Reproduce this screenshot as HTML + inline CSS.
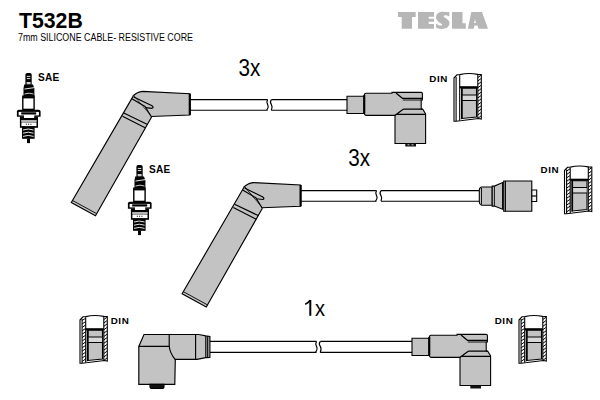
<!DOCTYPE html>
<html><head><meta charset="utf-8">
<style>
html,body{margin:0;padding:0;background:#fff;width:600px;height:400px;overflow:hidden}
svg{position:absolute;left:0;top:0}
text{font-family:"Liberation Sans",sans-serif}
</style></head>
<body>
<svg width="600" height="400" viewBox="0 0 600 400">
<defs>
  <!-- DIN connector, origin top-left, ~28x48 -->
  <g id="din" stroke="#000" stroke-width="1.1" fill="none">
    <path d="M0.5,5 L3.5,1.8 L6.2,1.6 Q15,-0.6 24.3,1.4 L27.8,1.6 L27.8,46 L25,45.5 L2.6,48.2 L0.5,48.2 Z" fill="#fff"/>
    <path d="M6.5,15 H8.3 V47.3 H6.5 Z" fill="#c3c3c3" stroke="none"/>
    <path d="M2.6,4 V48 M6.2,2.2 V47.5 M24.3,1.2 V45.8" />
    <path d="M2.7,5.5 L6.0,3.3 M2.7,8.9 L6.0,6.7 M2.7,12.3 L6.0,10.1 M2.7,15.7 L6.0,13.5 M2.7,19.1 L6.0,16.9 M2.7,22.5 L6.0,20.3 M2.7,25.9 L6.0,23.7 M2.7,29.3 L6.0,27.1 M2.7,32.7 L6.0,30.5 M2.7,36.1 L6.0,33.9 M2.7,39.5 L6.0,37.3 M2.7,42.9 L6.0,40.7 M2.7,46.3 L6.0,44.1" stroke-width="1"/>
    <path d="M24.4,4.5 L27.4,2.3 M24.4,7.9 L27.4,5.7 M24.4,11.3 L27.4,9.1 M24.4,14.7 L27.4,12.5 M24.4,18.1 L27.4,15.9 M24.4,21.5 L27.4,19.3 M24.4,24.9 L27.4,22.7 M24.4,28.3 L27.4,26.1 M24.4,31.7 L27.4,29.5 M24.4,35.1 L27.4,32.9 M24.4,38.5 L27.4,36.3 M24.4,41.9 L27.4,39.7 M24.4,45.3 L27.4,43.1" stroke-width="1"/>
    <line x1="6.2" y1="14.3" x2="24.3" y2="14.3" stroke-width="2.2"/>
    <path d="M8.3,15.3 H23 V44 L8.3,45.5 Z" fill="#c3c3c3"/>
    <rect x="8.8" y="22" width="13.8" height="5.5" fill="#d8d8d8" stroke="none"/>
    <path d="M8.3,22 H23 M8.3,27.5 H23" stroke-width="1"/>
    <path d="M8.3,15 V46" stroke-width="1.6"/>
  </g>
  <g id="din1" stroke="#000" stroke-width="1.1" fill="none">
    <path d="M0.5,5 L3.5,1.8 L6.2,1.6 Q15,-0.6 24.3,1.4 L27.8,1.6 L27.8,46 L25,45.5 L2.6,48.2 L0.5,48.2 Z" fill="#fff"/>
    <path d="M2.6,4 V48 M6.2,2.2 V47.5 M24.3,1.2 V45.8" />
    <path d="M6.5,15 H8.3 V47.3 H6.5 Z" fill="#c3c3c3" stroke="none"/>
    <path d="M24.4,4.5 L27.4,2.3 M24.4,7.9 L27.4,5.7 M24.4,11.3 L27.4,9.1 M24.4,14.7 L27.4,12.5 M24.4,18.1 L27.4,15.9 M24.4,21.5 L27.4,19.3 M24.4,24.9 L27.4,22.7 M24.4,28.3 L27.4,26.1 M24.4,31.7 L27.4,29.5 M24.4,35.1 L27.4,32.9 M24.4,38.5 L27.4,36.3 M24.4,41.9 L27.4,39.7 M24.4,45.3 L27.4,43.1" stroke-width="1"/>
    <line x1="6.2" y1="14.3" x2="24.3" y2="14.3" stroke-width="2.2"/>
    <path d="M8.3,15.3 H23 V44 L8.3,45.5 Z" fill="#c3c3c3"/>
    <rect x="8.8" y="22" width="13.8" height="5.5" fill="#d8d8d8" stroke="none"/>
    <path d="M8.3,22 H23 M8.3,27.5 H23" stroke-width="1"/>
    <path d="M8.3,15 V46" stroke-width="1.6"/>
  </g>
  <!-- spark plug, origin at plug 1 coords -->
  <g id="plug" stroke="#000" stroke-width="1.2" fill="#fff">
    <path d="M25.4,86 V74.8 Q25.4,73 27.2,73 H29.9 Q31.7,73 31.7,74.8 V86 Z" fill="#000" stroke="none"/>
    <path d="M26.8,76.4 H30.3 M26.8,78.6 H30.3" stroke="#fff" stroke-width="0.9"/>
    <rect x="26.6" y="82" width="4" height="2.6" fill="#ccc" stroke="none"/>
    <path d="M24.2,84.6 H33 L34.4,88.5 V96.5 H23.5 V88.5 Z" fill="#000" stroke="none"/>
    <path d="M24.5,89 L34,87.7" stroke="#fff" stroke-width="0.9"/>
    <path d="M24.5,94 Q29,92.3 33.5,94" stroke="#fff" stroke-width="0.8" fill="none"/>
    <rect x="22.8" y="96.2" width="11.3" height="13.2" fill="#fff" stroke-width="1.4"/>
    <path d="M22.8,97.4 H34.1" stroke-width="2"/>
    <path d="M16.9,116.8 V111.6 Q16.9,109.8 18.8,109.8 H38.7 Q40.6,109.8 40.6,111.6 V116.8 Z" fill="#000" stroke="none"/>
    <rect x="18.6" y="111.9" width="20.3" height="3.5" fill="#fff" stroke="none"/>
    <rect x="21.2" y="112.3" width="15" height="2.2" fill="#000" stroke="none"/>
    <rect x="19.9" y="116.5" width="18.1" height="11.3" fill="#000" stroke="none"/>
    <rect x="24" y="115" width="10.2" height="3" fill="#fff" stroke="none"/>
    <rect x="21.2" y="120.3" width="15.5" height="1.4" fill="#fff" stroke="none"/>
    <rect x="21.4" y="122.4" width="15.1" height="3.7" fill="#fff" stroke="none"/>
    <path d="M25.8,124.3 h1 M28.1,124.3 h1 M30.4,124.3 h1" stroke-width="1.1"/>
    <rect x="22" y="126.8" width="12.6" height="12" fill="#000" stroke="none"/>
    <path d="M23,130 Q28.3,128 33.6,130 M23,133.2 Q28.3,131.2 33.6,133.2 M23,136.4 Q28.3,134.4 33.6,136.4" stroke="#fff" stroke-width="0.9" fill="none"/>
    <rect x="27" y="138.5" width="3" height="4.6" fill="#000" stroke="none"/>
  </g>
  <!-- angled spark plug boot (cable 1) -->
  <g id="boot1" stroke="#000" stroke-width="1.15" fill="#c3c3c3">
    <path d="M142.5,91.4 L189.8,93.8 L189.8,115 L151,116.5 L133.5,95.5 Q137,92 142.5,91.4 Z"/>
    <path d="M71.3,202.5 L133.5,95.6 L151.6,117 L95.5,215.8 Z" stroke="none"/>
    <path d="M151.6,117 L95.5,215.8 L71.3,202.5 L133.5,95.6" fill="none"/>
    <path d="M72.4,200.4 L96.7,213.7" fill="none" stroke-width="0.9"/>
    <path d="M123.8,113.1 L147.5,124.4 M122.5,116.3 L145.6,128.1" fill="none"/>
    <path d="M131.9,98.7 L145,106.5 L151.5,117" fill="none"/>
    <path d="M133.7,96.9 L152,105.8 Q154.2,107.6 152,108.3 L145.5,107.6" fill="none"/>
    <path d="M189.8,93.8 L189.8,115" stroke-width="2.2"/>
  </g>
  <!-- right angled boot (cable 1 right end) -->
  <g id="elbow" stroke="#000" stroke-width="1.1" fill="#c3c3c3">
    <path d="M347,96.3 L364,96.3 L364,113.5 L347,113.5 Z"/>
    <path d="M366,93.3 L392,93.3 L392,92.4 L421.2,92.4 Q422.4,92.5 422.4,93.8 L422.4,99.9 L421.2,100 L421.2,109.2 L422.8,109.2 L425.6,114 L425.6,143.5 L395,143.5 L395,115.4 L366,115.4 Q364.3,115.2 364.3,113 V95.5 Q364.3,93.3 366,93.3 Z"/>
    <path d="M364.3,95 V113.5" stroke-width="2"/>
    <path d="M396,93 L402.4,98.3 H422.4 M403.2,109.2 H422.8 M403.2,109.2 L394.8,115.6 M396.5,114.4 H425.6" fill="none" stroke-width="1.2"/>
    <path d="M402.8,100 H421.2" fill="none" stroke-width="0.9"/>
    <rect x="405.3" y="143.5" width="10.7" height="3" fill="#111" stroke="none"/>
  </g>
</defs>

<!-- Title -->
<text x="19" y="28.3" font-size="21.8" font-weight="bold" fill="#000" textLength="63.8" lengthAdjust="spacingAndGlyphs">T532B</text>
<text x="18" y="40.9" font-size="10" fill="#000" textLength="175" lengthAdjust="spacingAndGlyphs">7mm SILICONE CABLE- RESISTIVE CORE</text>

<!-- TESLA -->
<g fill="#b6b6b6">
  <path d="M398,12 H415.7 V17 H412 V28.7 H401.7 V17 H398 Z"/>
  <path d="M418,12 H434 V16.7 H428.7 V18.8 H434 V21.8 H428.7 V24 H434 V28.7 H418 Z"/>
  <path d="M449.3,12 V16.5 C446,14.5 444,15 443.5,16 C443,17.5 449.5,19 449.5,23 C449.5,27 446,28.9 441.5,28.9 C439.5,28.9 437.5,28.2 436,27.5 V23.5 C439,26 442,26 442.3,25 C442.8,23.5 436,22 436,17.5 C436,13.5 439.5,11.8 443,11.8 C445.5,11.8 447.5,12.3 449.3,12 Z"/>
  <path d="M452,12 H462.5 V23.3 H465.8 V28.7 H452 Z"/>
  <path d="M471.3,12 H482 L488,28.7 H478.5 L477.5,25.5 H474.5 L473.7,28.7 H467.8 Z"/>
</g>
<path d="M475,19.5 L476,23 H474 Z" fill="#fff"/>
<!-- labels -->
<text x="238.5" y="75.7" font-size="23.2" fill="#000" textLength="21.8" lengthAdjust="spacingAndGlyphs">3x</text>
<text x="348.3" y="165.7" font-size="23.2" fill="#000" textLength="21.8" lengthAdjust="spacingAndGlyphs">3x</text>
<path d="M310.3,300 V315.8" stroke="#000" stroke-width="2" fill="none"/><path d="M305.2,304.2 Q308.5,302.8 310.2,300.2" stroke="#000" stroke-width="1.7" fill="none"/>
<text x="314.9" y="315.7" font-size="22.5" fill="#000" textLength="10" lengthAdjust="spacingAndGlyphs">x</text>

<text x="38" y="81.4" font-size="10.1" font-weight="bold" letter-spacing="0.2" fill="#000">SAE</text>
<text x="149" y="173" font-size="10.1" font-weight="bold" letter-spacing="0.2" fill="#000">SAE</text>
<text x="429.3" y="81.9" font-size="9.8" font-weight="bold" letter-spacing="0.6" fill="#000">DIN</text>
<text x="540.6" y="172.8" font-size="9.8" font-weight="bold" letter-spacing="0.6" fill="#000">DIN</text>
<text x="110.7" y="323.6" font-size="9.8" font-weight="bold" letter-spacing="0.6" fill="#000">DIN</text>
<text x="494.7" y="324" font-size="9.8" font-weight="bold" letter-spacing="0.6" fill="#000">DIN</text>

<!-- spark plugs -->
<use href="#plug"/>
<use href="#plug" transform="translate(111,92)"/>

<!-- DIN connectors -->
<use href="#din1" transform="translate(453.5,73)"/>
<use href="#din" transform="translate(564,165.5)"/>
<use href="#din" transform="translate(79.5,315)"/>
<use href="#din" transform="translate(518.5,315)"/>

<!-- cable 1 -->
<g stroke="#000" stroke-width="1.15" fill="none">
  <path d="M189.8,99.6 H267.6 M189.8,110.2 H267.6"/>
  <path d="M271.4,99.6 H347 M271.4,110.2 H347"/>
  <path d="M267.6,99.6 q-1.5,2.5 0,5 q1.5,2.5 -1,5.6 M271.4,99.6 q-2,2.5 0,5 q1.5,2.5 0,5.6"/>
</g>
<use href="#boot1"/>
<use href="#elbow"/>
<path d="M407.5,144.8 h2 M411.5,144.8 h2" stroke="#ddd" stroke-width="0.9"/>

<!-- cable 2 -->
<g stroke="#000" stroke-width="1.15" fill="none">
  <path d="M300,190.6 H376.5 M300,201.2 H376.5"/>
  <path d="M381,190.6 H479 M381,201.2 H479"/>
  <path d="M376.5,190.6 q-1.5,2.5 0,5 q1.5,2.5 -1,5.6 M381,190.6 q-2,2.5 0,5 q1.5,2.5 0,5.6"/>
</g>
<use href="#boot1" transform="translate(110.8,91.2)"/>
<g stroke="#000" stroke-width="1.1" fill="#c3c3c3">
  <path d="M481.5,187 L492.2,187 L492.2,205.2 L481.5,205.2 Q479.3,204.5 479.3,202 L479.3,190.3 Q479.3,187.5 481.5,187 Z"/>
  <path d="M481.5,188 V204.5" fill="none" stroke-width="0.9"/>
  <path d="M492.2,186.1 L494.4,186.1 L502.6,182.6 L502.6,209.2 L494.4,206.1 L492.2,206.1 Z"/>
  <path d="M494.4,186.1 V206.1" fill="none" stroke-width="0.9"/>
  <path d="M503.7,181 L531.8,181 L531.8,211.2 L503.7,211.2 Z"/>
  <path d="M505.4,181 V211.2" fill="none"/>
  <path d="M531.8,190 h4.9 v11.5 h-4.9 Z" fill="#f4f4f4"/>
  <path d="M531.8,196 h4.9" fill="none" stroke-width="1.2"/>
</g>

<!-- cable 3 -->
<g stroke="#000" stroke-width="1.15" fill="none">
  <path d="M209.6,341.4 H316.5 M209.6,352.4 H316.5"/>
  <path d="M320.3,341.4 H412.3 M320.3,352.4 H412.3"/>
  <path d="M316.5,341.4 q-1.5,2.5 0,5 q1.5,2.5 -1,6 M320.3,341.4 q-2,2.5 0,5 q1.5,2.5 0,6"/>
</g>
<g stroke="#000" stroke-width="1.15" fill="#c3c3c3">
  <path d="M209.9,336.5 L209.9,357.5 L205.8,357.6 L197,359.4 L175.3,359.4 L174.8,384.4 L138.8,384.4 L138.8,346.4 L144,334.5 L198.8,334.5 L205.8,335.9 L209.9,336.5 Z"/>
  <path d="M138.8,346.4 L169.5,346.4 M169.2,334.5 L169.2,346 Q170,353.5 175.3,359.6 M195.6,334.5 V359.4 M205.8,335.9 V357.6 M207.7,336.3 V357.5" fill="none"/>
  <path d="M150,384.4 h14 v2 q0,2 -2,2 h-10 q-2,0 -2,-2 Z" fill="#111"/>
</g>
<use href="#elbow" transform="translate(65,242)"/>

</svg>
</body></html>
